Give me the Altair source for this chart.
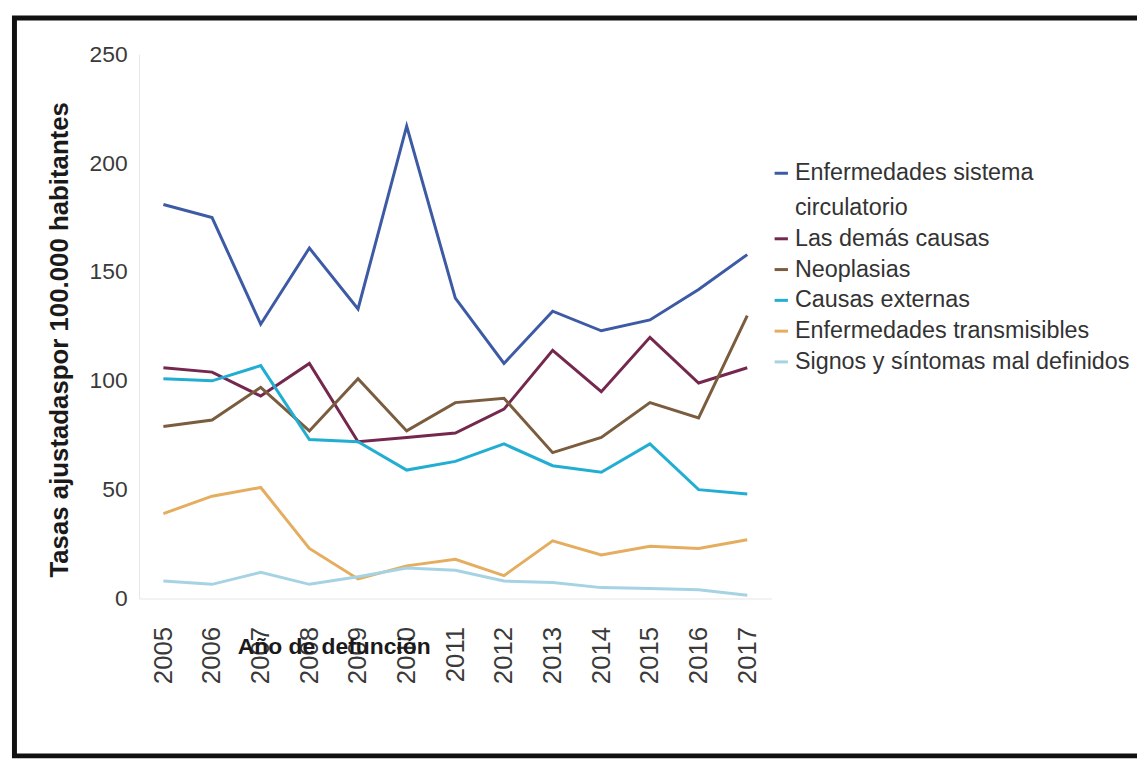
import altair as alt
import pandas as pd

years = ["2005", "2006", "2007", "2008", "2009", "2010", "2011", "2012", "2013", "2014", "2015", "2016", "2017"]

series_names = [
    "Enfermedades sistema circulatorio",
    "Las demás causas",
    "Neoplasias",
    "Causas externas",
    "Enfermedades transmisibles",
    "Signos y síntomas mal definidos",
]

circulatorio = [181, 175, 126, 161, 133, 217, 138, 108, 132, 123, 128, 142, 158]
demas_causas = [106, 104, 93, 108, 72, 74, 76, 87, 114, 95, 120, 99, 106]
neoplasias = [79, 82, 97, 77, 101, 77, 90, 92, 67, 74, 90, 83, 130]
causas_externas = [101, 100, 107, 73, 72, 59, 63, 71, 61, 58, 71, 50, 48]
transmisibles = [39, 47, 51, 23, 9, 15, 18, 10.5, 26.5, 20, 24, 23, 27]
signos = [8, 6.5, 12, 6.5, 10, 14, 13, 8, 7.3, 5, 4.6, 4, 1.5]

series_values = [circulatorio, demas_causas, neoplasias, causas_externas, transmisibles, signos]
colors = ["#3d5aa5", "#74284d", "#7a5c3e", "#21aed2", "#e5ad5f", "#a6d3e3"]

rows = []
for name, vals in zip(series_names, series_values):
    for y, v in zip(years, vals):
        rows.append({"Año": y, "Causa": name, "Tasa": v})
df = pd.DataFrame(rows)

FONT = "Liberation Sans, Arial, sans-serif"

lines = alt.Chart(df).mark_line(strokeWidth=3).encode(
    x=alt.X(
        "Año:O",
        sort=years,
        scale=alt.Scale(type="point", padding=0.5),
        axis=alt.Axis(
            title="Año de defunción",
            titleFont=FONT,
            titleFontSize=23,
            titleFontWeight="bold",
            titleColor="#1a1a1a",
            titleX=196,
            titleY=48,
            titleBaseline="middle",
            titleAlign="center",
            labelAngle=270,
            labelFont=FONT,
            labelFontSize=26,
            labelColor="#3a3a3a",
            labelPadding=28,
            ticks=False,
            domainColor="#e6e6e6",
            grid=False,
        ),
    ),
    y=alt.Y(
        "Tasa:Q",
        scale=alt.Scale(domain=[0, 250], nice=False, zero=True),
        axis=alt.Axis(
            title="Tasas ajustadaspor 100.000 habitantes",
            titleFont=FONT,
            titleFontSize=26,
            titleFontWeight="bold",
            titleColor="#1a1a1a",
            titleAngle=270,
            titleX=-80,
            titleY=287,
            titleBaseline="middle",
            titleAlign="center",
            values=[0, 50, 100, 150, 200, 250],
            labelFont=FONT,
            labelFontSize=23,
            labelColor="#3a3a3a",
            labelPadding=12,
            ticks=False,
            domainColor="#e6e6e6",
            grid=False,
        ),
    ),
    color=alt.Color(
        "Causa:N",
        sort=series_names,
        scale=alt.Scale(domain=series_names, range=colors),
        legend=alt.Legend(
            title=None,
            orient="none",
            legendX=635,
            legendY=108,
            padding=0,
            symbolType="stroke",
            symbolSize=180,
            symbolStrokeWidth=3,
            labelFont=FONT,
            labelFontSize=23.5,
            labelColor="#333333",
            labelLimit=400,
            labelOffset=2,
            rowPadding=6,
            labelExpr="datum.label == 'Enfermedades sistema circulatorio' ? ['Enfermedades sistema', 'circulatorio'] : datum.label",
        ),
    ),
)

frame = alt.Chart(pd.DataFrame({"f": [0]})).mark_rect(
    filled=False, stroke="#111111", strokeWidth=5
).encode(
    x=alt.value(-125.5),
    x2=alt.value(1012),
    y=alt.value(-36.5),
    y2=alt.value(706.5),
)

chart = alt.layer(lines, frame).properties(
    width=637,
    height=548,
    autosize=alt.AutoSizeParams(type="none"),
    padding={"left": 132, "top": 44, "right": 368, "bottom": 163},
).configure(
    background="white",
    view=alt.ViewConfig(strokeWidth=0),
    style={"guide-label": {"lineHeight": 35}},
)

chart.save("out.html", embed_options={"renderer": "svg", "actions": False})
